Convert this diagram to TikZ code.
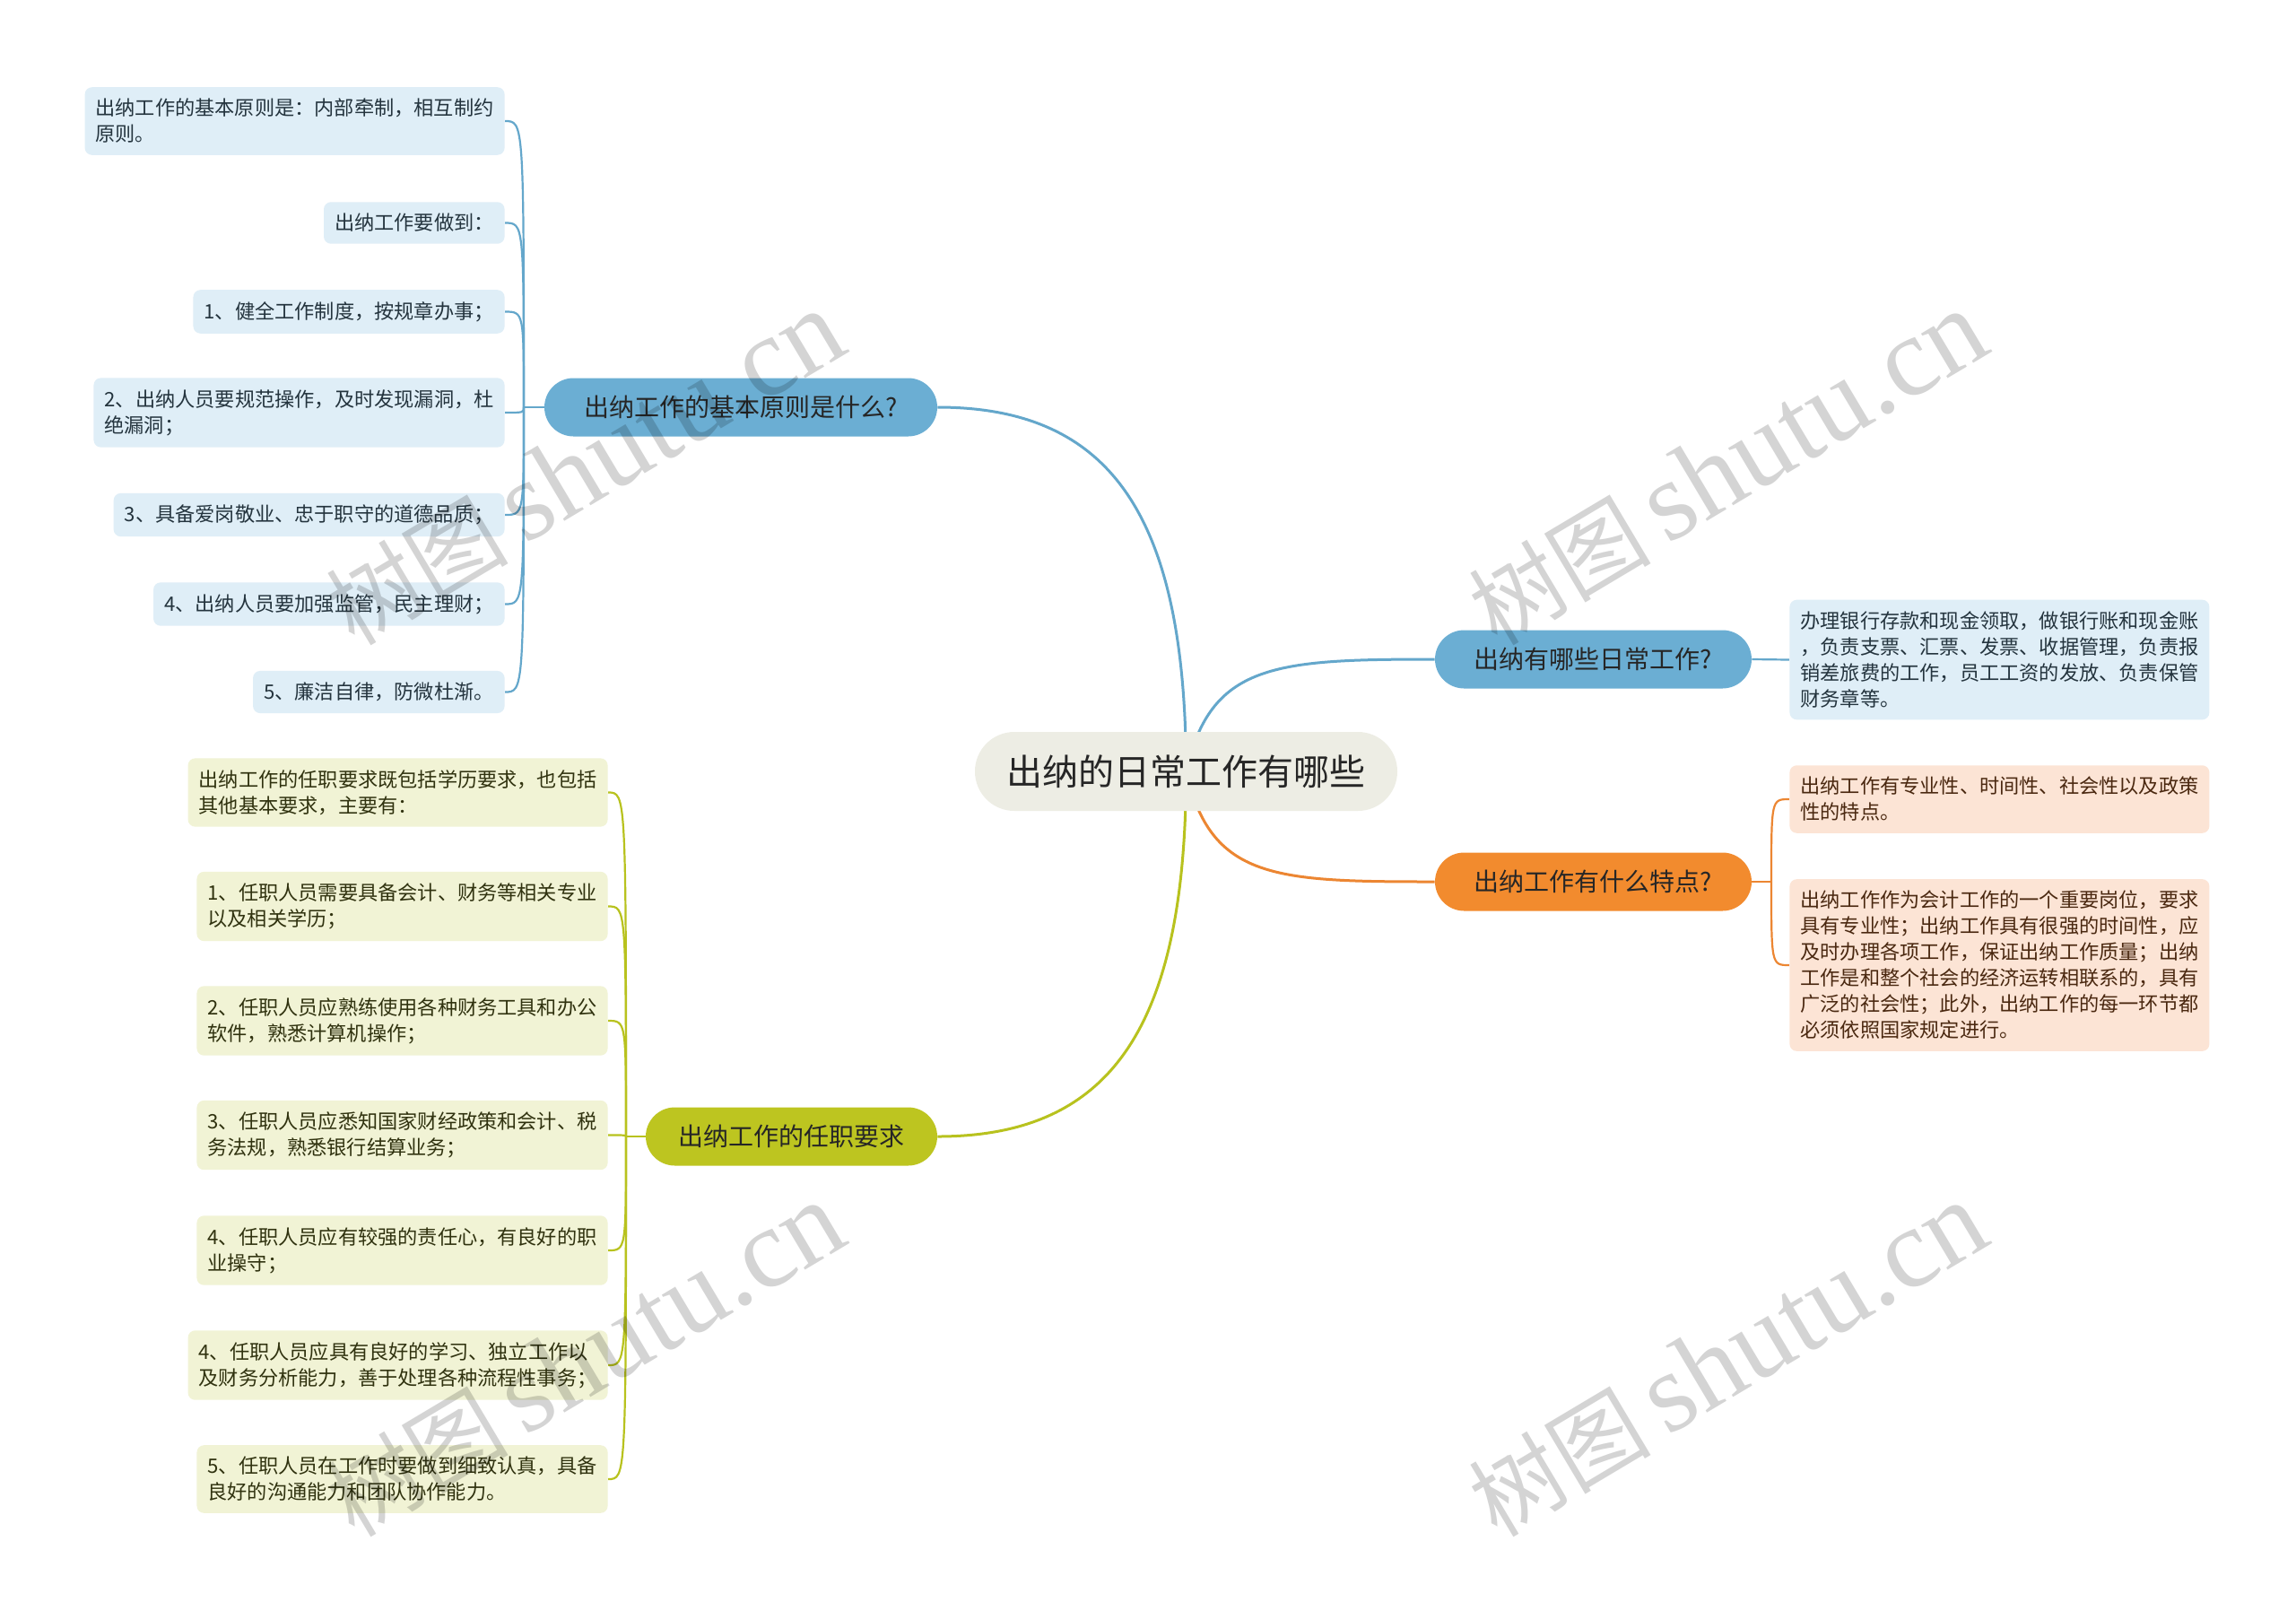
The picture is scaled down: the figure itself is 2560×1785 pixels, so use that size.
\documentclass[tikz,border=0pt]{standalone}
\usepackage{fontspec}
\setmainfont{Noto Sans CJK SC}
\newfontfamily\cjk{Noto Sans CJK SC}
\newfontfamily\wmlatin{Liberation Serif}
\usetikzlibrary{backgrounds}
\definecolor{rootfill}{HTML}{EDEDE4}
\definecolor{bluef}{HTML}{6BAED3}
\definecolor{bluel}{HTML}{DFEEF7}
\definecolor{bluec}{HTML}{64A7CB}
\definecolor{bluet}{HTML}{24343E}
\definecolor{orf}{HTML}{F28B2E}
\definecolor{orl}{HTML}{FCE4D5}
\definecolor{orc}{HTML}{EC8632}
\definecolor{ort}{HTML}{4A2810}
\definecolor{yef}{HTML}{BDC520}
\definecolor{yel}{HTML}{F1F3D5}
\definecolor{yec}{HTML}{B8C21E}
\definecolor{yet}{HTML}{30320F}
\begin{document}
\begin{tikzpicture}[x=0.5pt,y=-0.5pt,
  rootbox/.style={fill=rootfill, rounded corners=22pt, minimum height=44pt, minimum width=235.5pt, inner sep=0pt, font=\fontsize{20}{24}\selectfont, text=black!85},
  branchbox/.style={rounded corners=16.25pt, minimum height=32.5pt, inner sep=0pt, font=\fontsize{14}{17}\selectfont, text=black!85},
  leafbox/.style={rounded corners=4pt, inner xsep=6pt, inner ysep=6.5pt, align=left, font=\fontsize{11.1}{14.5}\selectfont},
  bleaf/.style={leafbox, fill=bluel, text=bluet},
  oleaf/.style={leafbox, fill=orl, text=ort},
  yleaf/.style={leafbox, fill=yel, text=yet},
  mainline/.style={line width=1.5pt},
  subline/.style={line width=1.1pt},
  wm/.style={text=black, text opacity=0.17, rotate=30.8, inner sep=0pt}]
\useasboundingbox (0,0) rectangle (2560,1785);

% root and branches
\node[rootbox] (root) at (1322.5,860) {出纳的日常工作有哪些};
\node[branchbox, fill=bluef, minimum width=219pt] (b1) at (826,454) {出纳工作的基本原则是什么?};
\node[branchbox, fill=bluef, minimum width=176.5pt] (b2) at (1776.5,735) {出纳有哪些日常工作?};
\node[branchbox, fill=orf, minimum width=176.5pt] (b3) at (1776.5,983) {出纳工作有什么特点?};
\node[branchbox, fill=yef, minimum width=162.5pt] (b4) at (882.5,1267) {出纳工作的任职要求};

% branch 1 leaves
\node[bleaf, anchor=east] (p1) at (563,135) {出纳工作的基本原则是：内部牵制，相互制约\\原则。};
\node[bleaf, anchor=east] (p2) at (563,248.5) {出纳工作要做到：};
\node[bleaf, anchor=east] (p3) at (563,347.5) {1、健全工作制度，按规章办事；};
\node[bleaf, anchor=east] (p4) at (563,460) {2、出纳人员要规范操作，及时发现漏洞，杜\\绝漏洞；};
\node[bleaf, anchor=east] (p5) at (563,574) {3、具备爱岗敬业、忠于职守的道德品质；};
\node[bleaf, anchor=east] (p6) at (563,673.5) {4、出纳人员要加强监管，民主理财；};
\node[bleaf, anchor=east] (p7) at (563,771.5) {5、廉洁自律，防微杜渐。};

% branch 2 leaf
\node[bleaf, anchor=west] (q1) at (1995,735.5) {办理银行存款和现金领取，做银行账和现金账\\，负责支票、汇票、发票、收据管理，负责报\\销差旅费的工作，员工工资的发放、负责保管\\财务章等。};

% branch 3 leaves
\node[oleaf, anchor=west] (r1) at (1995,891) {出纳工作有专业性、时间性、社会性以及政策\\性的特点。};
\node[oleaf, anchor=west] (r2) at (1995,1076) {出纳工作作为会计工作的一个重要岗位，要求\\具有专业性；出纳工作具有很强的时间性，应\\及时办理各项工作，保证出纳工作质量；出纳\\工作是和整个社会的经济运转相联系的，具有\\广泛的社会性；此外，出纳工作的每一环节都\\必须依照国家规定进行。};

% branch 4 leaves
\node[yleaf, anchor=east] (y1) at (678,883.5) {出纳工作的任职要求既包括学历要求，也包括\\其他基本要求，主要有：};
\node[yleaf, anchor=east] (y2) at (678,1010.5) {1、任职人员需要具备会计、财务等相关专业\\以及相关学历；};
\node[yleaf, anchor=east] (y3) at (678,1138) {2、任职人员应熟练使用各种财务工具和办公\\软件，熟悉计算机操作；};
\node[yleaf, anchor=east] (y4) at (678,1265.5) {3、任职人员应悉知国家财经政策和会计、税\\务法规，熟悉银行结算业务；};
\node[yleaf, anchor=east] (y5) at (678,1394) {4、任职人员应有较强的责任心，有良好的职\\业操守；};
\node[yleaf, anchor=east] (y6) at (678,1522) {4、任职人员应具有良好的学习、独立工作以\\及财务分析能力，善于处理各种流程性事务；};
\node[yleaf, anchor=east] (y7) at (678,1649) {5、任职人员在工作时要做到细致认真，具备\\良好的沟通能力和团队协作能力。};

\coordinate (s1) at (584,454);
\coordinate (s3) at (1975,983);
\coordinate (s4) at (698,1267);

\begin{scope}[on background layer]
  \fill[white] (0,0) rectangle (2560,1785);
  % root connectors
  \draw[bluec, mainline] (root.center) .. controls (1322,575) and (1239,454) .. (b1.east);
  \draw[bluec, mainline] (root.center) .. controls (1350,740) and (1420,735) .. (b2.west);
  \draw[orc, mainline] (root.center) .. controls (1350,980) and (1420,983) .. (b3.west);
  \draw[yec, mainline] (root.center) .. controls (1322,1145) and (1239,1267) .. (b4.east);
  % branch 1
  \draw[bluec, subline] (b1.west) -- (s1);
  \foreach \n in {p1,p2,p3,p4,p5,p6,p7}
    \draw[bluec, subline] (s1) .. controls (s1 |- \n.east) .. (\n.east);
  % branch 2
  \draw[bluec, subline] (b2.east) -- (q1.west);
  % branch 3
  \draw[orc, subline] (b3.east) -- (s3);
  \foreach \n in {r1,r2}
    \draw[orc, subline] (s3) .. controls (s3 |- \n.west) .. (\n.west);
  % branch 4
  \draw[yec, subline] (b4.west) -- (s4);
  \foreach \n in {y1,y2,y3,y4,y5,y6,y7}
    \draw[yec, subline] (s4) .. controls (s4 |- \n.east) .. (\n.east);
\end{scope}

% watermarks
\node[wm] (w1) at (652,522) {{\cjk\fontsize{51}{51}\selectfont 树图}\hspace{9pt}{\wmlatin\fontsize{63}{63}\selectfont shutu.cn}};
\node[wm] (w2) at (1926,522) {{\cjk\fontsize{51}{51}\selectfont 树图}\hspace{9pt}{\wmlatin\fontsize{63}{63}\selectfont shutu.cn}};
\node[wm] (w3) at (652,1516) {{\cjk\fontsize{51}{51}\selectfont 树图}\hspace{9pt}{\wmlatin\fontsize{63}{63}\selectfont shutu.cn}};
\node[wm] (w4) at (1926,1516) {{\cjk\fontsize{51}{51}\selectfont 树图}\hspace{9pt}{\wmlatin\fontsize{63}{63}\selectfont shutu.cn}};
\end{tikzpicture}
\end{document}
